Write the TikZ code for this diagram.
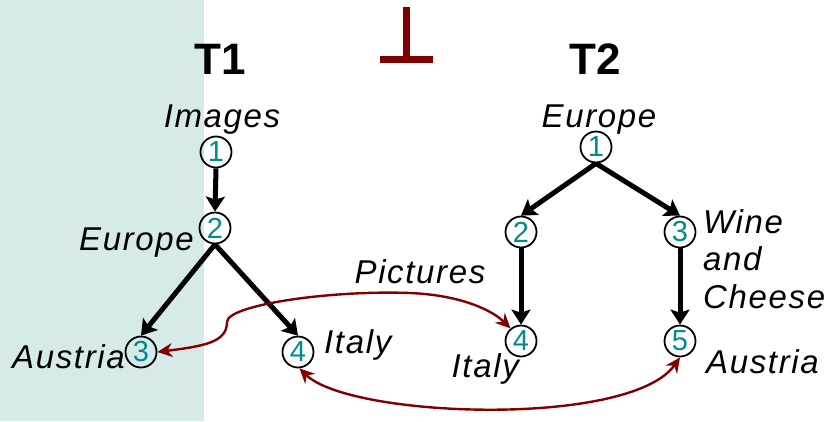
\documentclass[tikz,border=0pt]{standalone}
\usepackage{fontspec}
\setmainfont{Liberation Sans}
\newfontfamily\lblfont{Liberation Sans}[LetterSpace=5]
\usetikzlibrary{arrows.meta}
\definecolor{ShadeCyan}{RGB}{214,234,234}
\definecolor{NumTeal}{RGB}{0,139,139}
\definecolor{DarkRed}{RGB}{128,0,0}

\begin{document}
\begin{tikzpicture}[x=1pt, y=-1pt,
  num/.style={draw, circle, line width=1.8pt, minimum size=31pt, inner sep=0pt,
    text=NumTeal, font=\fontsize{29}{29}\selectfont},
  lbl/.style={inner sep=0pt, font=\lblfont\itshape\fontsize{33}{37.5}\selectfont},
  ttl/.style={inner sep=0pt, font=\bfseries\fontsize{44}{44}\selectfont},
  edge/.style={-{Stealth[length=15pt,width=19pt,inset=3pt]}, line width=5pt},
  link/.style={{Stealth[length=15pt,width=14pt]}-{Stealth[length=15pt,width=14pt]},
    line width=2.4pt, DarkRed}]
\useasboundingbox (0,0) rectangle (826,421);
\fill[ShadeCyan] (0,0) rectangle (204,421);

% orthogonality sign
\draw[DarkRed, line width=7pt] (406.5,7) -- (406.5,59) (380,59) -- (433,59);

% tree T1
\node[ttl] (t1) at (220,59) {T1};
\node[num] (a1) at (216,152) {1};
\node[num] (a2) at (215,228) {2};
\node[num] (a3) at (141,352) {3};
\node[num] (a4) at (298,352) {4};
\node[lbl, anchor=base] (images) at (222,127) {Images};
\node[lbl, anchor=base east] (eu1) at (194,250) {Europe};
\node[lbl, anchor=base east] (at1) at (125,368) {Austria};
\node[lbl, anchor=base west] (it1) at (324,353) {Italy};
\draw[edge] (a1.south) -- (a2.north);
\draw[edge] (a2.south) -- (a3.north);
\draw[edge] (a2.south) -- (a4.north);

% tree T2
\node[ttl] (t2) at (595,59) {T2};
\node[num] (b1) at (596,147) {1};
\node[num] (b2) at (521,232) {2};
\node[num] (b3) at (680,232) {3};
\node[num] (b4) at (521,341) {4};
\node[num] (b5) at (680,341) {5};
\node[lbl, anchor=base] (eu2) at (599,127) {Europe};
\node[lbl, anchor=base east] (it2) at (519,377) {Italy};
\node[lbl, anchor=base west, align=left] (wc) at (703,308) {Wine\\and\\Cheese};
\node[lbl, anchor=base west] (at2) at (706,373) {Austria};
\draw[edge] (b1.south) -- (b2.north);
\draw[edge] (b1.south) -- (b3.north);
\draw[edge] (b2.south) -- (b4.north);
\draw[edge] (b3.south) -- (b5.north);

% mappings between the trees
\node[lbl, anchor=base] (pics) at (420,283) {Pictures};
\coordinate (bend) at (227,322);
\coordinate (arcTop) at (410,293);
\draw[link] (a3.east) .. controls (205,346) and (227,342) .. (bend)
  .. controls (227,305) and (330,290) .. (arcTop)
  .. controls (460,295) and (492,310) .. (b4.130);
\draw[link] (a4.-85) .. controls (350,418) and (630,428) .. (b5.south);
\end{tikzpicture}
\end{document}
